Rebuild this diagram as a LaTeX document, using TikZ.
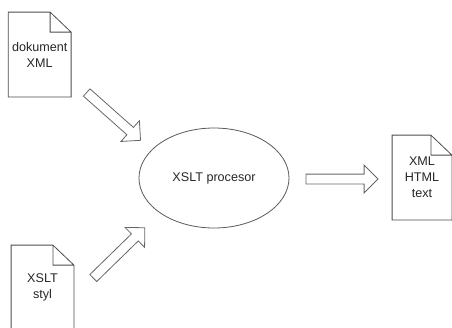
\documentclass[tikz,border=0pt]{standalone}
\usepackage{fontspec}
\setmainfont{Liberation Sans}
\usetikzlibrary{shapes.geometric,shapes.arrows}

\begin{document}
\begin{tikzpicture}[x=1pt,y=-1pt,line width=0.8pt,
    doc/.style = {minimum width=62pt, minimum height=84pt, inner sep=0pt, align=center, text=black!85, font=\fontsize{12.6}{16}\selectfont},
    proc/.style = {draw=black!65, ellipse, minimum width=150pt, minimum height=100pt, text=black!85, font=\fontsize{12.6}{16}\selectfont},
    fat/.style = {draw=black!60, single arrow, single arrow head extend=9pt, single arrow tip angle=90, inner sep=4.5pt, outer sep=0pt, minimum height=72pt, anchor=tail}]
        \useasboundingbox (0,0) rectangle (452,327);
        \node[doc] (src) at (39.7,54.5) {dokument\\XML};
        \node[doc] (xsl) at (42.5,287.5) {XSLT\\styl};
        \node[doc, minimum width=59pt] (out) at (422,177.5) {XML\\HTML\\text};
        \node[proc] (xslt) at (214,178) {XSLT procesor};
        \node[fat, rotate=-41.6] (in1) at (86.7,92.5) {};
        \node[fat, rotate=44.3] (in2) at (93.3,278) {};
        \node[fat] (res) at (306,179) {};
        % sheets with a folded corner
        \foreach \d in {src,xsl,out}
            \draw[black!70] (\d.north west) -- ([xshift=-21pt]\d.north east) -- ([yshift=-20pt]\d.north east) -- (\d.south east) -- (\d.south west) -- cycle
                ([xshift=-21pt]\d.north east) |- ([yshift=-20pt]\d.north east);
\end{tikzpicture}
\end{document}
